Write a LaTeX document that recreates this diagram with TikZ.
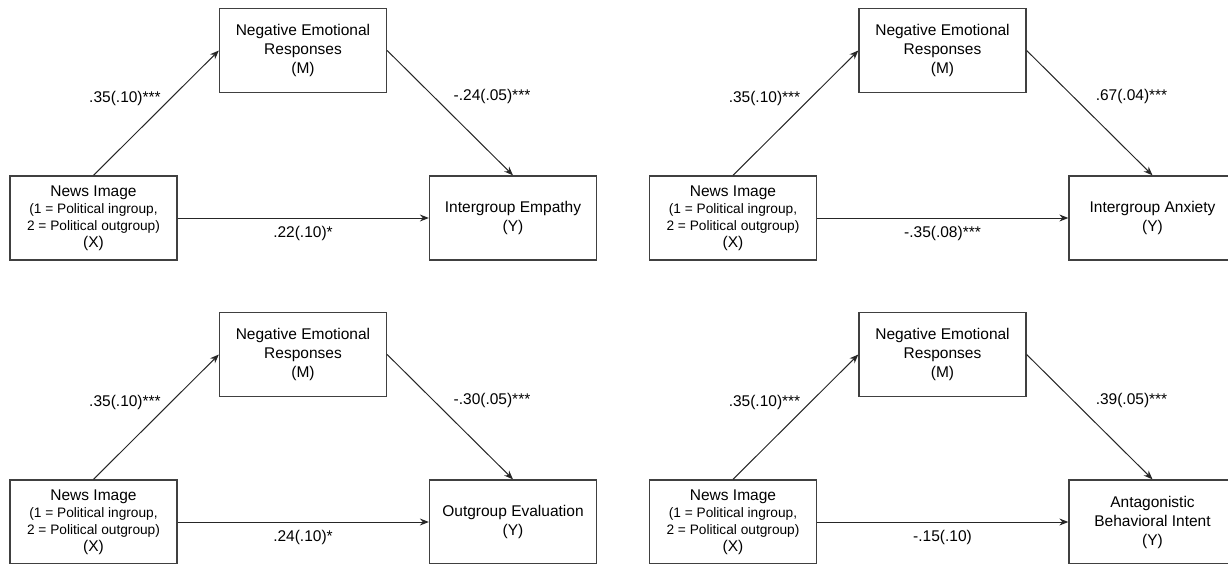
\documentclass[tikz,border=0pt]{standalone}
\usepackage{fontspec}
\setmainfont{Liberation Sans}
\usetikzlibrary{arrows.meta}

\begin{document}
\begin{tikzpicture}[
    x=1pt, y=-1pt,
    var/.style={rectangle, draw=black!75, line width=1.3pt, minimum width=167pt,
        minimum height=84pt, inner sep=0pt, align=center,
        font=\fontsize{15.5}{19}\selectfont},
    coef/.style={inner sep=0pt, font=\fontsize{15.5}{19}\selectfont},
    >={Stealth[length=9pt, width=7pt, inset=3pt]},
    line width=1pt,
]
\useasboundingbox (0,0) rectangle (1228,564);

\foreach \row/\col/\outcome/\xm/\my/\xy in {
    0/0/{Intergroup Empathy\\(Y)}/.35(.10)***/-.24(.05)***/.22(.10)*,
    0/1/{Intergroup Anxiety\\(Y)}/.35(.10)***/.67(.04)***/-.35(.08)***,
    1/0/{Outgroup Evaluation\\(Y)}/.35(.10)***/-.30(.05)***/.24(.10)*,
    1/1/{Antagonistic\\Behavioral Intent\\(Y)}/.35(.10)***/.39(.05)***/-.15(.10)%
} {
    \begin{scope}[shift={(639.5*\col, 304*\row)}]
        \node[var, font=\fontsize{15.5}{17}\selectfont] (x-\row-\col) at (93.5,218)
            {News Image\\{\fontsize{13.7}{17}\selectfont (1 = Political ingroup,}\\
             {\fontsize{13.7}{17}\selectfont 2 = Political outgroup)}\\(X)};
        \node[var] (m-\row-\col) at (303,50.5) {Negative Emotional\\Responses\\(M)};
        \node[var] (y-\row-\col) at (513,218) {\outcome};

        \node[coef] (a-\row-\col) at (125,98) {\xm};
        \node[coef] (b-\row-\col) at (492,96) {\my};
        \node[coef] (c-\row-\col) at (303,233) {\xy};

        \draw[->, black!85] (x-\row-\col.north) -- (m-\row-\col.west);
        \draw[->, black!85] (m-\row-\col.east) -- (y-\row-\col.north);
        \draw[->, black!85] (x-\row-\col.east) -- (y-\row-\col.west);
    \end{scope}
}
\end{tikzpicture}
\end{document}
